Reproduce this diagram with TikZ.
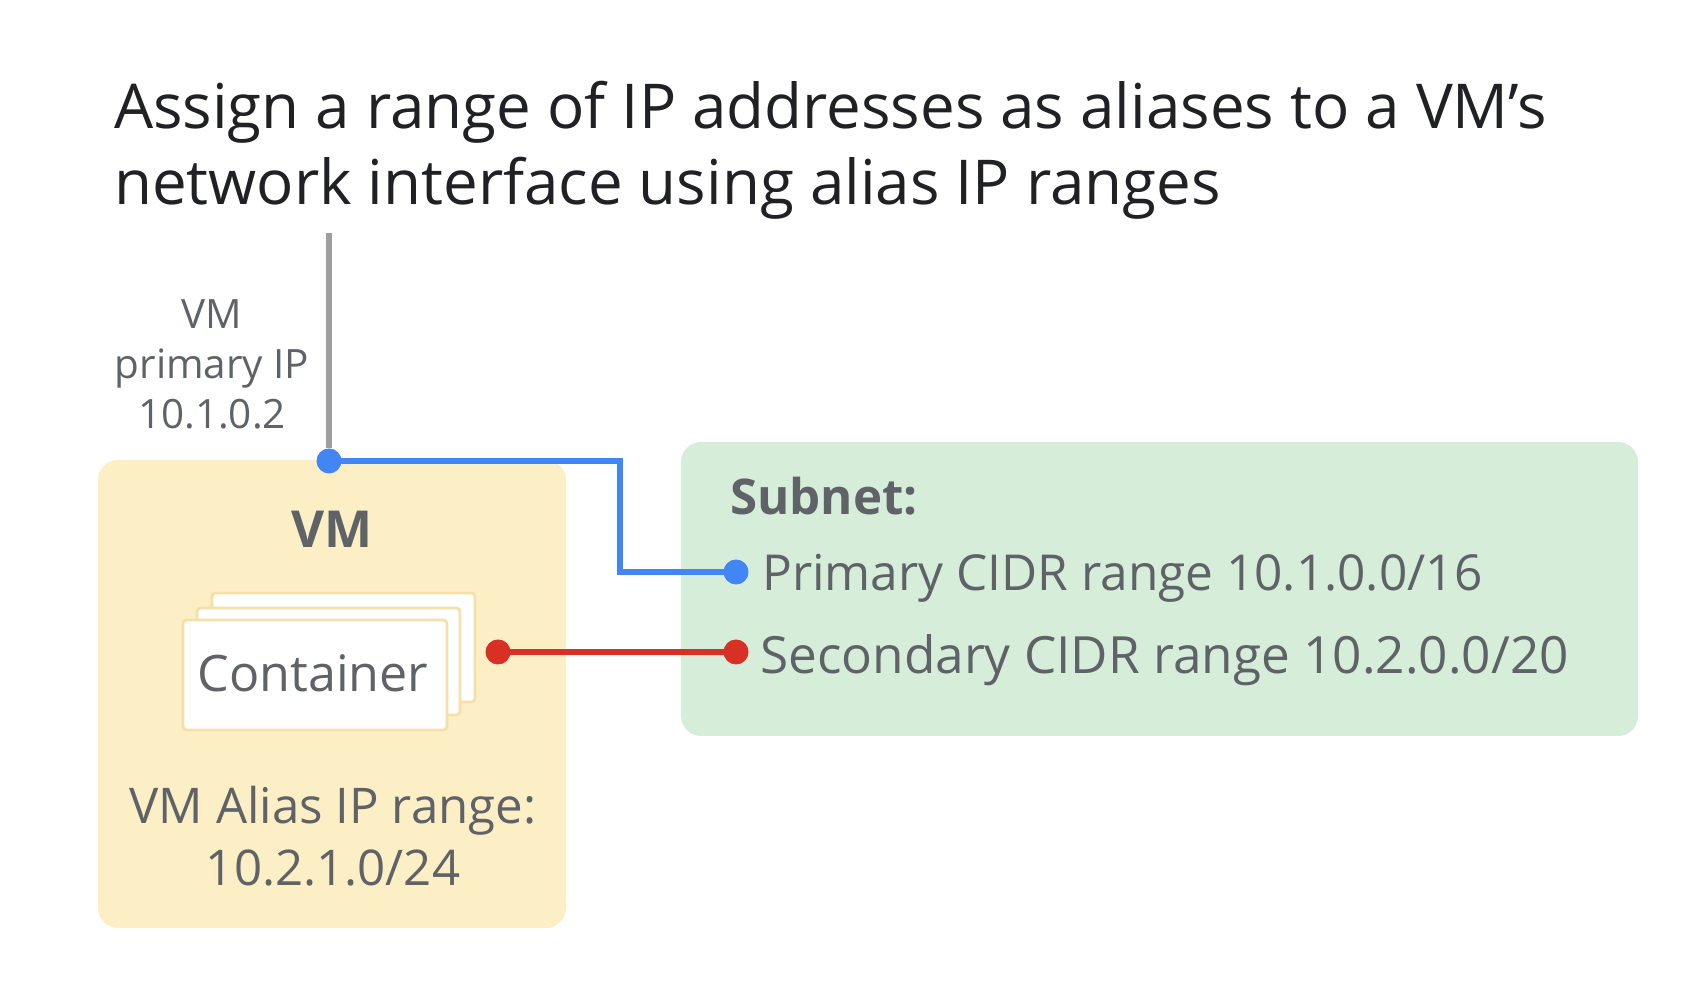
\documentclass[tikz,border=0pt]{standalone}
\usepackage{fontspec}
\setsansfont{Open Sans}
\definecolor{titlegray}{HTML}{202124}
\definecolor{textgray}{HTML}{5F6368}
\definecolor{wiregray}{HTML}{9E9E9E}
\definecolor{vmyellow}{HTML}{FCEFC6}
\definecolor{cardedge}{HTML}{F4E0A8}
\definecolor{subnetgreen}{HTML}{D6EDDA}
\definecolor{gblue}{HTML}{4285F4}
\definecolor{gred}{HTML}{D93025}
\begin{document}
\begin{tikzpicture}[font=\sffamily,line width=1.8pt,inner sep=0pt,
	dot/.style={circle,fill=#1,inner sep=0pt,outer sep=0pt,minimum size=2.5mm},
	wire/.style={draw=#1,shorten <=-1mm,shorten >=-1mm},
	card/.style={draw=cardedge,line width=0.8pt,fill=white,rounded corners=1pt},
	label/.style={text=textgray}]
	\useasboundingbox (0,0) rectangle (16.9,9.91);

	%title
	\node[anchor=base west,text=titlegray,font=\sffamily\fontsize{17.6}{21}\selectfont] (title1) at (1.11,8.62) {Assign a range of IP addresses as aliases to a VM’s};
	\node[anchor=base west,text=titlegray,font=\sffamily\fontsize{17.6}{21}\selectfont] (title2) at (1.11,7.86) {network interface using alias IP ranges};

	%boxes
	\fill[vmyellow,rounded corners=2mm] (0.98,0.63) rectangle (5.66,5.31); %VM box
	\fill[subnetgreen,rounded corners=2mm] (6.81,2.55) rectangle (16.38,5.49); %subnet box

	%container cards
	\draw[card] (2.12,2.89) rectangle (4.75,3.98); %back card
	\draw[card] (1.97,2.76) rectangle (4.60,3.83); %middle card
	\draw[card] (1.83,2.61) rectangle (4.47,3.71); %front card

	%labels
	\node[label,align=center,font=\sffamily\fontsize{11.5}{14.2}\selectfont] (primaryip) at (2.12,6.27) {VM\\primary IP\\10.1.0.2};
	\node[label,font=\sffamily\bfseries\fontsize{14.5}{17}\selectfont] (vmname) at (3.32,4.62) {VM};
	\node[label,font=\sffamily\fontsize{14.3}{17}\selectfont] (container) at (3.13,3.18) {Container};
	\node[label,align=center,font=\sffamily\fontsize{14}{17.5}\selectfont] (aliasrange) at (3.33,1.55) {VM Alias IP range:\\10.2.1.0/24};
	\node[label,anchor=west,font=\sffamily\bfseries\fontsize{14}{17}\selectfont] (subnet) at (7.27,4.95) {Subnet:};
	\node[label,anchor=base west,font=\sffamily\fontsize{14.1}{17}\selectfont] (primary) at (7.59,4.00) {Primary CIDR range 10.1.0.0/16};
	\node[label,anchor=base west,font=\sffamily\fontsize{14.6}{17}\selectfont] (secondary) at (7.57,3.17) {Secondary CIDR range 10.2.0.0/20};

	%dots
	\node[dot=gblue] (vmip) at (3.29,5.30) {}; %VM primary IP
	\node[dot=gblue] (primdot) at (7.36,4.19) {}; %primary range
	\node[dot=gred] (contdot) at (4.98,3.39) {}; %container
	\node[dot=gred] (secdot) at (7.36,3.39) {}; %secondary range

	%wires
	\coordinate (uplink) at (3.29,7.58); %top of VM wire
	\coordinate (bend) at (6.20,4.19); %blue elbow
	\draw[wiregray] (uplink) -- (vmip);
	\draw[wire=gblue] (vmip) -| (bend) -- (primdot);
	\draw[wire=gred] (contdot) -- (secdot);

\end{tikzpicture}
\end{document}
